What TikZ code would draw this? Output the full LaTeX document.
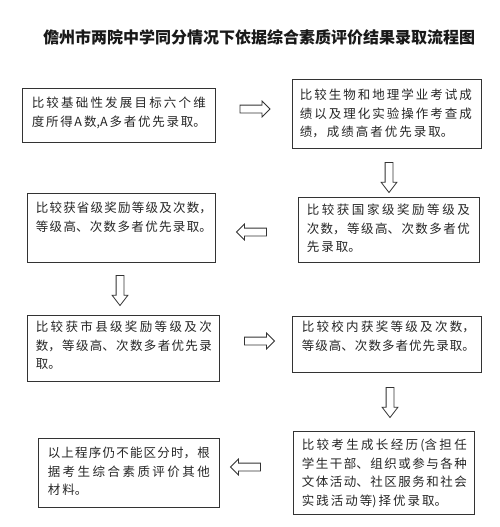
\documentclass[tikz,border=0pt]{standalone}
\usepackage{fontspec}
\setmainfont{Noto Sans CJK SC}
\usetikzlibrary{shapes.arrows,calc}
\XeTeXlinebreaklocale "zh"
\XeTeXlinebreakskip=2pt plus 1pt minus 1.5pt
\newcommand{\nl}{\linebreak}
\tikzset{
  box/.style={draw=black!80, line width=0.8pt, rectangle, inner sep=0pt},
  txt/.style={inner sep=0pt, align=justify, anchor=base west, text=black!85,
              font=\fontsize{12.5}{18.5}\selectfont},
  harrow/.style={single arrow, draw=black!80, line width=0.8pt, inner xsep=0pt,
              inner ysep=3.5pt, minimum height=30pt, single arrow head extend=4pt,
              single arrow tip angle=90},
  varrow/.style={harrow, single arrow tip angle=75, rotate=-90}
}
\begin{document}
\begin{tikzpicture}[x=1pt,y=-1pt]
\fill[white] (0,0) rectangle (499,527);
\useasboundingbox (0,0) rectangle (499,527);

\node[anchor=base, text=black!90, font=\fontsize{16}{20}\selectfont\bfseries] (title) at (259,44)
  {\XeTeXlinebreakskip=1.8pt\relax 儋州市两院中学同分情况下依据综合素质评价结果录取流程图};

% boxes
\node[box, minimum width=193, minimum height=54] (b1) at (118.5,115) {};
\node[box, minimum width=189, minimum height=69] (b2) at (386.5,113.5) {};
\node[box, minimum width=181, minimum height=65] (b3) at (388.5,229.5) {};
\node[box, minimum width=188, minimum height=69] (b4) at (121,227.5) {};
\node[box, minimum width=192, minimum height=66] (b5) at (123,348) {};
\node[box, minimum width=189, minimum height=56] (b6) at (386.5,344) {};
\node[box, minimum width=181, minimum height=83] (b7) at (383.5,472.5) {};
\node[box, minimum width=181, minimum height=69] (b8) at (128.5,472.5) {};

% texts
\node[txt, text width=174pt] (t1) at ($(b1.north west)+(10,20)$)
  {比较基础性发展目标六个维\nl 度所得A\hskip 2pt plus 4pt 数,A\hskip 2pt plus 4pt 多者优先录取。\parfillskip=0pt\par};
\node[txt, text width=172pt] (t2) at ($(b2.north west)+(8,21)$)
  {比较生物和地理学业考试成\nl 绩以及理化实验操作考查成\nl 绩，成绩高者优先录取。};
\node[txt, text width=163pt] (t3) at ($(b3.north west)+(9,18)$)
  {比较获国家级奖励等级及\nl 次数，等级高、次数多者优\nl 先录取。};
\node[txt, text width=176pt] (t4) at ($(b4.north west)+(9,20)$)
  {比较获省级奖励等级及次数，\nl 等级高、次数多者优先录取。};
\node[txt, text width=176pt] (t5) at ($(b5.north west)+(9,17)$)
  {比较获市县级奖励等级及次\nl 数，等级高、次数多者优先录\nl 取。};
\node[txt, text width=173pt] (t6) at ($(b6.north west)+(10,16)$)
  {比较校内获奖等级及次数，\nl 等级高、次数多者优先录取。};
\node[txt, text width=165pt] (t7) at ($(b7.north west)+(9,19)$)
  {比较考生成长经历(含担任\nl 学生干部、组织或参与各种\nl 文体活动、社区服务和社会\nl 实践活动等)择优录取。};
\node[txt, text width=162pt] (t8) at ($(b8.north west)+(10,20)$)
  {以上程序仍不能区分时，根\nl 据考生综合素质评价其他\nl 材料。};

% block arrows
\node[harrow] (a1) at (253,109) {};
\node[varrow] (a2) at (389,175) {};
\node[harrow, rotate=180] (a3) at (253.5,232) {};
\node[varrow] (a4) at (120,288) {};
\node[harrow] (a5) at (257.5,341) {};
\node[varrow] (a6) at (390,400) {};
\node[harrow, rotate=180] (a7) at (247.5,467) {};
\end{tikzpicture}
\end{document}
